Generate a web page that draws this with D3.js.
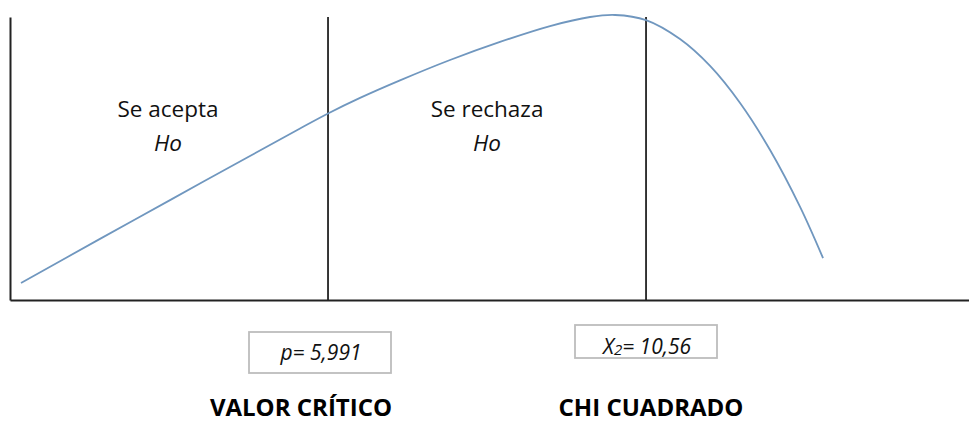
<!DOCTYPE html>
<html>
<head>
<meta charset="utf-8">
<script src="https://cdn.jsdelivr.net/npm/d3@7"></script>
<style>
  html, body { margin: 0; padding: 0; background: #fff; }
  svg { display: block; font-family: "Open Sans", "Liberation Sans", sans-serif; }
</style>
</head>
<body>
<svg id="chart" width="969" height="422"></svg>
<script>
// ---- data ----
const curveX = [1.580, 2.715, 3.721, 4.870, 5.589, 5.991, 6.451, 7.025, 7.744, 8.462, 9.181, 9.756, 10.115, 10.560, 11.048, 11.480, 11.911, 12.342, 12.773, 13.103];
const curveY = [6.0, 21.6, 35.3, 50.9, 60.6, 65.9, 71.4, 77.6, 84.8, 91.2, 96.8, 100.0, 100.7, 98.9, 92.2, 82.7, 69.6, 53.0, 32.9, 14.8];
const criticalValue = 5.991;
const chiSquare = 10.56;
const regionLabels = ["Se acepta", "Se rechaza"];
const regionSub = ["Ho", "Ho"];
const boxLabels = ["p= 5,991", "X2= 10,56"];
const bottomLabels = ["VALOR CRÍTICO", "CHI CUADRADO"];
const xDomain = [1.422, 15.2];
const yDomain = [0, 100];

// ---- scales ----
const svg = d3.select("#chart");
const x = d3.scaleLinear().domain(xDomain).range([10, 969]);
const y = d3.scaleLinear().domain(yDomain).range([300, 17]);

// axes (plain lines, no ticks)
svg.append("g").attr("transform", "translate(0,300)")
  .call(d3.axisBottom(x).tickValues([]).tickSizeOuter(0))
  .call(g => g.select(".domain").attr("stroke", "#222").attr("stroke-width", 2));
svg.append("g").attr("transform", "translate(10,0)")
  .call(d3.axisLeft(y).tickValues([]).tickSizeOuter(0))
  .call(g => g.select(".domain").attr("stroke", "#222").attr("stroke-width", 2));

// vertical separators
[criticalValue, chiSquare].forEach(v => {
  svg.append("line")
    .attr("x1", x(v)).attr("x2", x(v))
    .attr("y1", y(yDomain[1])).attr("y2", y(0))
    .attr("stroke", "#222").attr("stroke-width", 1.8);
});

// curve
const pts = curveX.map((d, i) => [d, curveY[i]]);
svg.append("path")
  .datum(pts)
  .attr("fill", "none")
  .attr("stroke", "#7097bf")
  .attr("stroke-width", 1.8)
  .attr("d", d3.line().x(d => x(d[0])).y(d => y(d[1])).curve(d3.curveCatmullRom.alpha(0.5)));

// region labels
const regionCenters = [(xDomain[0] + criticalValue) / 2, (criticalValue + chiSquare) / 2];
regionLabels.forEach((t, i) => {
  const cx = x(regionCenters[i]) + (i === 0 ? -1 : 0);
  svg.append("text").attr("x", cx).attr("y", 117)
    .attr("text-anchor", "middle").attr("font-size", 22.5).attr("fill", "#111").text(t);
  svg.append("text").attr("x", cx).attr("y", 151)
    .attr("text-anchor", "middle").attr("font-size", 22.5).attr("font-style", "italic").attr("fill", "#111").text(regionSub[i]);
});

// value boxes
const boxes = [
  {x0: 249, x1: 391, y0: 332, y1: 373, ty: 360},
  {x0: 575, x1: 717, y0: 325, y1: 358, ty: 354}
];
boxes.forEach((b, i) => {
  svg.append("rect").attr("x", b.x0).attr("y", b.y0)
    .attr("width", b.x1 - b.x0).attr("height", b.y1 - b.y0)
    .attr("fill", "#fff").attr("stroke", "#bdbdbd").attr("stroke-width", 1.8);
  const t = svg.append("text").attr("x", (b.x0 + b.x1) / 2 + 1).attr("y", b.ty)
    .attr("text-anchor", "middle").attr("font-size", 21).attr("font-style", "italic").attr("fill", "#111");
  const label = boxLabels[i];
  if (label.startsWith("X2")) {
    t.append("tspan").text("X");
    t.append("tspan").attr("font-size", 15).attr("dy", 1).text("2");
    t.append("tspan").attr("dy", -1).text(label.slice(2));
  } else {
    t.text(label);
  }
});

// bottom labels
const bottomCenters = [301, 651];
bottomLabels.forEach((t, i) => {
  svg.append("text").attr("x", bottomCenters[i]).attr("y", 416)
    .attr("text-anchor", "middle").attr("font-size", 24).attr("font-weight", "bold").attr("fill", "#000").text(t);
});
</script>
</body>
</html>
